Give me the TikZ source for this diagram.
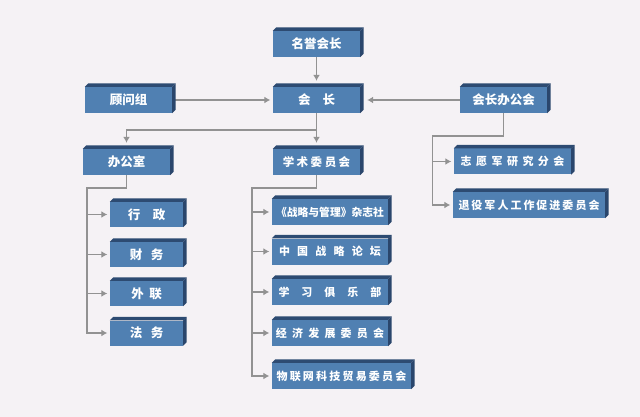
\documentclass[tikz,border=0pt]{standalone}
\usepackage{fontspec}
\newfontfamily\cjk{Noto Sans CJK SC}
\usetikzlibrary{arrows.meta}
\definecolor{bgc}{HTML}{F5F2F5}
\definecolor{frontc}{HTML}{5080B2}
\definecolor{topc}{HTML}{2D4B72}
\definecolor{sidec}{HTML}{2A466C}
\definecolor{connc}{HTML}{929292}
\pgfdeclarelayer{behind}
\pgfsetlayers{behind,main}
\makeatletter
\newcommand\spc[2]{\def\spc@gap{#1}\spc@first#2\relax}
\def\spc@first#1{#1\spc@loop}
\def\spc@loop#1{\ifx\relax#1\else\hskip\spc@gap pt\relax#1\expandafter\spc@loop\fi}
\makeatother
\tikzset{
  box/.style={fill=frontc, text=white, inner sep=0pt, minimum height=26pt,
    font=\cjk\bfseries\fontsize{12.5pt}{14pt}\selectfont},
  subbox/.style={box, font=\cjk\bfseries\fontsize{11pt}{13pt}\selectfont},
  topface/.style={fill=topc},
  sideface/.style={fill=sidec},
  conn/.style={draw=connc, line width=1.9pt, -{Latex[length=6pt,width=7pt]}, shorten >=2.5pt},
  down/.style={shorten >=6pt}
}
\begin{document}
\begin{tikzpicture}[x=1pt,y=-1pt]
\begin{pgfonlayer}{behind}
\fill[bgc] (0,0) rectangle (640,417);
\end{pgfonlayer}
\useasboundingbox (0,0) rectangle (640,417);

% top level
\node[box, minimum width=87pt] (mz) at (316.5,44) {\spc{0}{名誉会长}};
\node[box, minimum width=87pt] (hz) at (316.5,100) {\spc{12}{会长}};
\node[box, minimum width=87pt] (gwz) at (128.5,100) {\spc{0}{顾问组}};
\node[box, minimum width=87pt] (hzbgh) at (503.5,100) {\spc{0}{会长办公会}};
\node[box, minimum width=87pt] (bgs) at (126.5,162) {\spc{0}{办公室}};
\node[box, minimum width=87pt, font=\cjk\bfseries\fontsize{11.5pt}{13pt}\selectfont] (xswyh) at (316.5,162) {\spc{2.5}{学术委员会}};

% right branch
\node[subbox, minimum width=117pt] (zyj) at (512.5,161.5) {\spc{4.5}{志愿军研究分会}};
\node[subbox, minimum width=152pt] (tyjr) at (529,205) {\spc{2}{退役军人工作促进委员会}};

% office branch
\node[box, minimum width=73pt, minimum height=25pt] (xz) at (146.5,214.5) {\spc{12.5}{行政}};
\node[box, minimum width=73pt, minimum height=25pt] (cw) at (146.5,254.5) {\spc{8.5}{财务}};
\node[box, minimum width=73pt, minimum height=25pt] (wl) at (146.5,293.5) {\spc{5.5}{外联}};
\node[box, minimum width=73pt, minimum height=25pt] (fw) at (146.5,333) {\spc{8.5}{法务}};

% academic branch
\node[subbox, minimum width=116pt, font=\cjk\bfseries\fontsize{10.8pt}{13pt}\selectfont] (zlgl) at (330,212) {\spc{0}{《战略与管理》杂志社}};
\node[subbox, minimum width=116pt] (zgzl) at (330,251.5) {\spc{7.2}{中国战略论坛}};
\node[subbox, minimum width=116pt] (xxjlb) at (330,292) {\spc{12}{学习俱乐部}};
\node[subbox, minimum width=116pt] (jjfz) at (330,333) {\spc{5.2}{经济发展委员会}};
\node[subbox, minimum width=139pt] (wlw) at (341.5,376) {\spc{2.2}{物联网科技贸易委员会}};

% 3D faces
\foreach \n in {mz,hz,gwz,hzbgh,bgs,xswyh,zyj,tyjr,xz,cw,wl,fw,zlgl,zgzl,xxjlb,jjfz,wlw}{
  \fill[topface] (\n.north west) -- ++(3.5,-3.5) -- ([shift={(3.5,-3.5)}]\n.north east) -- (\n.north east) -- cycle;
  \fill[sideface] (\n.north east) -- ++(3.5,-3.5) -- ([shift={(3.5,-3.5)}]\n.south east) -- (\n.south east) -- cycle;
}

\coordinate (j1) at (316.5,130);
\coordinate (bL) at (87,188);
\coordinate (sL) at (252,188);
\coordinate (hL) at (432.5,136);

\begin{pgfonlayer}{behind}
\draw[conn, down] (mz.south) -- (hz.north);
\draw[conn] (gwz.east) -- (hz.west);
\draw[conn, shorten >=7pt] (hzbgh.west) -- (hz.east);
\draw[conn, down] (hz.south) -- (xswyh.north);
\draw[conn, down] (hz.south) -- (j1) -| (bgs.north);

\foreach \t in {xz,cw,wl,fw}
  \draw[conn] (bgs.south) |- (bL) |- (\t.west);
\foreach \t in {zlgl,zgzl,xxjlb,jjfz,wlw}
  \draw[conn] (xswyh.south) |- (sL) |- (\t.west);
\foreach \t in {zyj,tyjr}
  \draw[conn] (hzbgh.south) |- (hL) |- (\t.west);
\end{pgfonlayer}
\end{tikzpicture}
\end{document}
